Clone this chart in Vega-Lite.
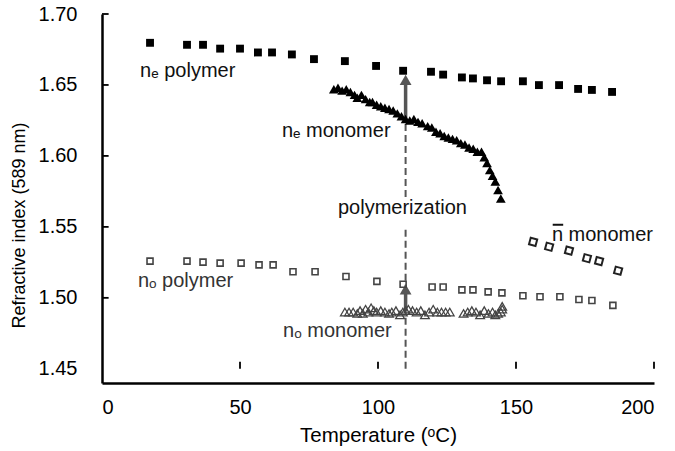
{
  "$schema": "https://vega.github.io/schema/vega-lite/v6.json",
  "width": 552,
  "height": 369,
  "autosize": {"type": "none"},
  "padding": {"left": 102, "top": 14, "right": 21, "bottom": 68},
  "background": "white",
  "config": {"view": {"stroke": null}, "font": "Liberation Sans"},
  "datasets": {
    "pts": [
      {"s": "ne polymer", "t": 17.4, "n": 1.6797}, {"s": "ne polymer", "t": 30.8, "n": 1.6783}, {"s": "ne polymer", "t": 36.6, "n": 1.6783}, {"s": "ne polymer", "t": 42.8, "n": 1.6756}, {"s": "ne polymer", "t": 50.0, "n": 1.6756}, {"s": "ne polymer", "t": 56.5, "n": 1.6729}, {"s": "ne polymer", "t": 61.6, "n": 1.6729}, {"s": "ne polymer", "t": 68.8, "n": 1.6715}, {"s": "ne polymer", "t": 76.8, "n": 1.6682}, {"s": "ne polymer", "t": 88.0, "n": 1.6668}, {"s": "ne polymer", "t": 99.3, "n": 1.6634}, {"s": "ne polymer", "t": 109.1, "n": 1.6600}, {"s": "ne polymer", "t": 119.2, "n": 1.6593}, {"s": "ne polymer", "t": 123.6, "n": 1.6573}, {"s": "ne polymer", "t": 130.4, "n": 1.6553}, {"s": "ne polymer", "t": 134.4, "n": 1.6546}, {"s": "ne polymer", "t": 139.5, "n": 1.6533}, {"s": "ne polymer", "t": 144.6, "n": 1.6526}, {"s": "ne polymer", "t": 152.5, "n": 1.6526}, {"s": "ne polymer", "t": 158.3, "n": 1.6499}, {"s": "ne polymer", "t": 165.6, "n": 1.6499}, {"s": "ne polymer", "t": 172.5, "n": 1.6472}, {"s": "ne polymer", "t": 177.5, "n": 1.6465}, {"s": "ne polymer", "t": 184.8, "n": 1.6451},
      {"s": "no polymer", "t": 17.4, "n": 1.5259}, {"s": "no polymer", "t": 30.8, "n": 1.5259}, {"s": "no polymer", "t": 36.6, "n": 1.5252}, {"s": "no polymer", "t": 42.8, "n": 1.5245}, {"s": "no polymer", "t": 50.4, "n": 1.5245}, {"s": "no polymer", "t": 56.9, "n": 1.5232}, {"s": "no polymer", "t": 62.0, "n": 1.5232}, {"s": "no polymer", "t": 69.2, "n": 1.5184}, {"s": "no polymer", "t": 77.2, "n": 1.5184}, {"s": "no polymer", "t": 88.4, "n": 1.5150}, {"s": "no polymer", "t": 99.6, "n": 1.5116}, {"s": "no polymer", "t": 109.1, "n": 1.5096}, {"s": "no polymer", "t": 119.6, "n": 1.5076}, {"s": "no polymer", "t": 123.6, "n": 1.5076}, {"s": "no polymer", "t": 130.4, "n": 1.5056}, {"s": "no polymer", "t": 134.4, "n": 1.5056}, {"s": "no polymer", "t": 139.9, "n": 1.5042}, {"s": "no polymer", "t": 144.9, "n": 1.5035}, {"s": "no polymer", "t": 152.5, "n": 1.5015}, {"s": "no polymer", "t": 158.7, "n": 1.5008}, {"s": "no polymer", "t": 165.9, "n": 1.5008}, {"s": "no polymer", "t": 172.8, "n": 1.4988}, {"s": "no polymer", "t": 177.5, "n": 1.4981}, {"s": "no polymer", "t": 185.1, "n": 1.4947},
      {"s": "nbar monomer", "t": 156.2, "n": 1.5394}, {"s": "nbar monomer", "t": 162.0, "n": 1.5360}, {"s": "nbar monomer", "t": 169.2, "n": 1.5333}, {"s": "nbar monomer", "t": 175.7, "n": 1.5279}, {"s": "nbar monomer", "t": 180.1, "n": 1.5259}, {"s": "nbar monomer", "t": 187.0, "n": 1.5191},
      {"s": "ne monomer", "t": 84.0, "n": 1.647}, {"s": "ne monomer", "t": 85.5, "n": 1.648}, {"s": "ne monomer", "t": 87.0, "n": 1.646}, {"s": "ne monomer", "t": 88.5, "n": 1.647}, {"s": "ne monomer", "t": 90.0, "n": 1.645}, {"s": "ne monomer", "t": 91.5, "n": 1.643}, {"s": "ne monomer", "t": 92.5, "n": 1.641}, {"s": "ne monomer", "t": 94.0, "n": 1.643}, {"s": "ne monomer", "t": 95.5, "n": 1.640}, {"s": "ne monomer", "t": 97.0, "n": 1.638}, {"s": "ne monomer", "t": 98.0, "n": 1.638}, {"s": "ne monomer", "t": 99.5, "n": 1.636}, {"s": "ne monomer", "t": 101.0, "n": 1.635}, {"s": "ne monomer", "t": 102.5, "n": 1.634}, {"s": "ne monomer", "t": 104.0, "n": 1.633}, {"s": "ne monomer", "t": 105.5, "n": 1.632}, {"s": "ne monomer", "t": 107.0, "n": 1.630}, {"s": "ne monomer", "t": 108.5, "n": 1.628}, {"s": "ne monomer", "t": 110.0, "n": 1.626}, {"s": "ne monomer", "t": 111.5, "n": 1.625}, {"s": "ne monomer", "t": 113.0, "n": 1.626}, {"s": "ne monomer", "t": 114.5, "n": 1.624}, {"s": "ne monomer", "t": 116.0, "n": 1.623}, {"s": "ne monomer", "t": 118.0, "n": 1.621}, {"s": "ne monomer", "t": 119.5, "n": 1.620}, {"s": "ne monomer", "t": 121.0, "n": 1.617}, {"s": "ne monomer", "t": 122.5, "n": 1.616}, {"s": "ne monomer", "t": 124.0, "n": 1.614}, {"s": "ne monomer", "t": 125.5, "n": 1.613}, {"s": "ne monomer", "t": 127.0, "n": 1.612}, {"s": "ne monomer", "t": 128.5, "n": 1.611}, {"s": "ne monomer", "t": 130.0, "n": 1.609}, {"s": "ne monomer", "t": 131.5, "n": 1.608}, {"s": "ne monomer", "t": 133.0, "n": 1.606}, {"s": "ne monomer", "t": 134.5, "n": 1.605}, {"s": "ne monomer", "t": 136.0, "n": 1.603}, {"s": "ne monomer", "t": 137.5, "n": 1.603}, {"s": "ne monomer", "t": 138.5, "n": 1.599}, {"s": "ne monomer", "t": 139.5, "n": 1.595}, {"s": "ne monomer", "t": 140.5, "n": 1.590}, {"s": "ne monomer", "t": 141.5, "n": 1.586}, {"s": "ne monomer", "t": 142.5, "n": 1.582}, {"s": "ne monomer", "t": 143.5, "n": 1.576}, {"s": "ne monomer", "t": 144.5, "n": 1.570},
      {"s": "no monomer", "t": 88.0, "n": 1.490}, {"s": "no monomer", "t": 89.5, "n": 1.490}, {"s": "no monomer", "t": 91.0, "n": 1.490}, {"s": "no monomer", "t": 92.5, "n": 1.489}, {"s": "no monomer", "t": 93.5, "n": 1.491}, {"s": "no monomer", "t": 94.5, "n": 1.489}, {"s": "no monomer", "t": 95.5, "n": 1.492}, {"s": "no monomer", "t": 96.5, "n": 1.490}, {"s": "no monomer", "t": 97.5, "n": 1.493}, {"s": "no monomer", "t": 98.5, "n": 1.491}, {"s": "no monomer", "t": 99.5, "n": 1.490}, {"s": "no monomer", "t": 101.0, "n": 1.491}, {"s": "no monomer", "t": 102.5, "n": 1.490}, {"s": "no monomer", "t": 104.0, "n": 1.489}, {"s": "no monomer", "t": 105.0, "n": 1.490}, {"s": "no monomer", "t": 106.5, "n": 1.491}, {"s": "no monomer", "t": 108.0, "n": 1.488}, {"s": "no monomer", "t": 109.0, "n": 1.490}, {"s": "no monomer", "t": 110.0, "n": 1.491}, {"s": "no monomer", "t": 111.0, "n": 1.492}, {"s": "no monomer", "t": 112.5, "n": 1.491}, {"s": "no monomer", "t": 114.0, "n": 1.490}, {"s": "no monomer", "t": 115.5, "n": 1.491}, {"s": "no monomer", "t": 117.0, "n": 1.488}, {"s": "no monomer", "t": 118.5, "n": 1.490}, {"s": "no monomer", "t": 120.0, "n": 1.492}, {"s": "no monomer", "t": 121.5, "n": 1.490}, {"s": "no monomer", "t": 123.0, "n": 1.490}, {"s": "no monomer", "t": 124.5, "n": 1.490}, {"s": "no monomer", "t": 126.0, "n": 1.490}, {"s": "no monomer", "t": 131.0, "n": 1.489}, {"s": "no monomer", "t": 132.5, "n": 1.490}, {"s": "no monomer", "t": 134.0, "n": 1.491}, {"s": "no monomer", "t": 135.5, "n": 1.490}, {"s": "no monomer", "t": 137.0, "n": 1.488}, {"s": "no monomer", "t": 138.5, "n": 1.491}, {"s": "no monomer", "t": 140.0, "n": 1.489}, {"s": "no monomer", "t": 141.5, "n": 1.490}, {"s": "no monomer", "t": 142.5, "n": 1.488}, {"s": "no monomer", "t": 143.5, "n": 1.489}, {"s": "no monomer", "t": 144.5, "n": 1.490}, {"s": "no monomer", "t": 145.0, "n": 1.492}, {"s": "no monomer", "t": 145.0, "n": 1.494}
    ],
    "dashes": [
      {"t": 110, "a": 1.45, "b": 1.549},
      {"t": 110, "a": 1.571, "b": 1.625}
    ],
    "shafts": [
      {"t": 110, "a": 1.625, "b": 1.652},
      {"t": 110, "a": 1.4905, "b": 1.504}
    ],
    "heads": [
      {"t": 110, "n": 1.6535},
      {"t": 110, "n": 1.5060}
    ],
    "xticks": [{"t": 50}, {"t": 100}, {"t": 150}, {"t": 200}],
    "yticks": [{"n": 1.5}, {"n": 1.55}, {"n": 1.6}, {"n": 1.65}, {"n": 1.7}],
    "labels": [
      {"g": "e", "label": "nₑ polymer", "t": 13.8, "n": 1.6553},
      {"g": "e", "label": "nₑ monomer", "t": 65.2, "n": 1.6133},
      {"g": "e", "label": "polymerization", "t": 85.5, "n": 1.5591},
      {"g": "o", "label": "nₒ polymer", "t": 13.0, "n": 1.5076},
      {"g": "o", "label": "nₒ monomer", "t": 65.6, "n": 1.4724},
      {"g": "e", "label": "n monomer", "t": 163.0, "n": 1.5401}
    ],
    "bars": [
      {"t": 163.3, "t2": 167.1, "n": 1.5515}
    ]
  },
  "layer": [
    {
      "data": {"name": "dashes"},
      "mark": {"type": "rule", "color": "#555555", "strokeWidth": 2, "strokeDash": [7, 4]},
      "encoding": {
        "x": {"field": "t", "type": "quantitative", "scale": {"domain": [0, 200]},
          "axis": {"values": [0, 50, 100, 150, 200], "grid": false, "domainColor": "black", "domainWidth": 2.5, "ticks": false, "labelFontSize": 20, "labelColor": "black", "labelPadding": 14, "title": "Temperature (ᵒC)", "titleFontSize": 20.5, "titleFontWeight": "normal", "titleColor": "black", "titlePadding": 8}},
        "y": {"field": "a", "type": "quantitative", "scale": {"domain": [1.45, 1.70]},
          "axis": {"values": [1.45, 1.5, 1.55, 1.6, 1.65, 1.7], "format": ".2f", "grid": false, "domainColor": "black", "domainWidth": 2.5, "ticks": false, "labelFontSize": 20, "labelColor": "black", "labelPadding": 25, "title": "Refractive index (589 nm)", "titleFontSize": 18, "titleFontWeight": "normal", "titleColor": "black", "titlePadding": 10, "titleY": 211}},
        "y2": {"field": "b"}
      }
    },
    {
      "data": {"name": "xticks"},
      "mark": {"type": "rule", "color": "black", "strokeWidth": 1.8},
      "encoding": {
        "x": {"field": "t", "type": "quantitative"},
        "y": {"datum": 1.45, "type": "quantitative"},
        "y2": {"datum": 1.455}
      }
    },
    {
      "data": {"name": "yticks"},
      "mark": {"type": "rule", "color": "black", "strokeWidth": 1.8},
      "encoding": {
        "y": {"field": "n", "type": "quantitative"},
        "x": {"datum": 0, "type": "quantitative"},
        "x2": {"datum": 2.4}
      }
    },
    {
      "data": {"name": "shafts"},
      "mark": {"type": "rule", "color": "#555555", "strokeWidth": 3.5},
      "encoding": {
        "x": {"field": "t", "type": "quantitative"},
        "y": {"field": "a", "type": "quantitative"},
        "y2": {"field": "b"}
      }
    },
    {
      "data": {"name": "heads"},
      "mark": {"type": "point", "shape": "triangle-up", "filled": true, "color": "#555555", "size": 140, "opacity": 1},
      "encoding": {
        "x": {"field": "t", "type": "quantitative"},
        "y": {"field": "n", "type": "quantitative"}
      }
    },
    {
      "data": {"name": "pts"},
      "transform": [{"filter": "datum.s === 'ne polymer'"}],
      "mark": {"type": "point", "shape": "square", "filled": true, "color": "black", "size": 62, "opacity": 1},
      "encoding": {
        "x": {"field": "t", "type": "quantitative"},
        "y": {"field": "n", "type": "quantitative"}
      }
    },
    {
      "data": {"name": "pts"},
      "transform": [{"filter": "datum.s === 'no polymer'"}],
      "mark": {"type": "point", "shape": "square", "filled": false, "color": "#444444", "strokeWidth": 1.6, "size": 36, "opacity": 1},
      "encoding": {
        "x": {"field": "t", "type": "quantitative"},
        "y": {"field": "n", "type": "quantitative"}
      }
    },
    {
      "data": {"name": "pts"},
      "transform": [{"filter": "datum.s === 'nbar monomer'"}],
      "mark": {"type": "point", "shape": "square", "filled": false, "color": "#222222", "strokeWidth": 2, "size": 45, "angle": 15, "opacity": 1},
      "encoding": {
        "x": {"field": "t", "type": "quantitative"},
        "y": {"field": "n", "type": "quantitative"}
      }
    },
    {
      "data": {"name": "pts"},
      "transform": [{"filter": "datum.s === 'ne monomer'"}],
      "mark": {"type": "point", "shape": "triangle-up", "filled": true, "color": "black", "size": 95, "opacity": 1},
      "encoding": {
        "x": {"field": "t", "type": "quantitative"},
        "y": {"field": "n", "type": "quantitative"}
      }
    },
    {
      "data": {"name": "pts"},
      "transform": [{"filter": "datum.s === 'no monomer'"}],
      "mark": {"type": "point", "shape": "triangle-up", "filled": false, "color": "#444444", "strokeWidth": 1.3, "size": 75, "opacity": 1},
      "encoding": {
        "x": {"field": "t", "type": "quantitative"},
        "y": {"field": "n", "type": "quantitative"}
      }
    },
    {
      "data": {"name": "labels"},
      "transform": [{"filter": "datum.g === 'e'"}],
      "mark": {"type": "text", "align": "left", "baseline": "alphabetic", "fontSize": 20, "color": "#111111"},
      "encoding": {
        "x": {"field": "t", "type": "quantitative"},
        "y": {"field": "n", "type": "quantitative"},
        "text": {"field": "label"}
      }
    },
    {
      "data": {"name": "bars"},
      "mark": {"type": "rule", "color": "#111111", "strokeWidth": 2},
      "encoding": {
        "x": {"field": "t", "type": "quantitative"},
        "x2": {"field": "t2"},
        "y": {"field": "n", "type": "quantitative"}
      }
    },
    {
      "data": {"name": "labels"},
      "transform": [{"filter": "datum.g === 'o'"}],
      "mark": {"type": "text", "align": "left", "baseline": "alphabetic", "fontSize": 20, "color": "#333333"},
      "encoding": {
        "x": {"field": "t", "type": "quantitative"},
        "y": {"field": "n", "type": "quantitative"},
        "text": {"field": "label"}
      }
    }
  ]
}
